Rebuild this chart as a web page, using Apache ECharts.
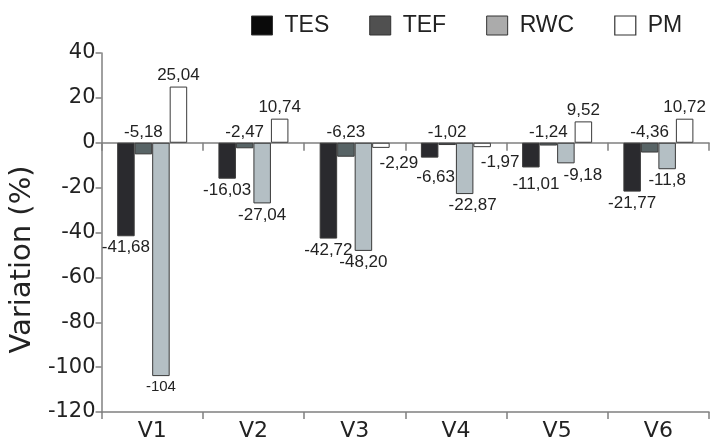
<!DOCTYPE html>
<html>
<head>
<meta charset="utf-8">
<script src="https://cdn.jsdelivr.net/npm/echarts@6/dist/echarts.min.js"></script>
<style>
    html, body { margin: 0; padding: 0; background: #fff; }
    #chart { width: 713px; height: 445px; }
</style>
</head>
<body>
<div id="chart"></div>
<script>
    const categories = ['V1', 'V2', 'V3', 'V4', 'V5', 'V6'];
    const tes = [-41.68, -16.03, -42.72, -6.63, -11.01, -21.77];
    const tef = [-5.18, -2.47, -6.23, -1.02, -1.24, -4.36];
    const rwc = [-104, -27.04, -48.20, -22.87, -9.18, -11.8];
    const pm = [25.04, 10.74, -2.29, -1.97, 9.52, 10.72];
    // labels as printed (comma decimals)
    const tesLabels = ['-41,68', '-16,03', '-42,72', '-6,63', '-11,01', '-21,77'];
    const tefLabels = ['-5,18', '-2,47', '-6,23', '-1,02', '-1,24', '-4,36'];
    const rwcLabels = ['-104', '-27,04', '-48,20', '-22,87', '-9,18', '-11,8'];
    const pmLabels = ['25,04', '10,74', '-2,29', '-1,97', '9,52', '10,72'];

    const font = 'Liberation Sans';
    const axisFont = 'DejaVu Sans';
    const axisColor = '#808080';
    const border = {borderColor: '#3a3a3a', borderWidth: 1};

    function labelled(values, texts, labelFor) {
        return values.map((v, i) => ({value: v, label: Object.assign({formatter: texts[i]}, labelFor(v, i))}));
    }

    // nudge a few labels so they don't collide, like in the original figure
    const tesNudge = {3: [6, 8], 4: [5, 5]};
    const rwcNudge = {3: [8, 0], 4: [17, 0]};

    const chart = echarts.init(document.getElementById('chart'));
    chart.setOption({
        animation: false,
        textStyle: {fontFamily: font},
        legend: {
            left: 246,
            top: 9,
            itemWidth: 21,
            itemHeight: 19,
            itemGap: 40,
            textStyle: {fontSize: 23, color: '#222', fontFamily: font, padding: [0, 0, 0, 7]},
            data: [
                {name: 'TES', icon: 'rect', itemStyle: {color: '#0a0a0a', borderColor: '#333', borderWidth: 1}},
                {name: 'TEF', icon: 'rect', itemStyle: {color: '#505050', borderColor: '#333', borderWidth: 1}},
                {name: 'RWC', icon: 'rect', itemStyle: {color: '#ababab', borderColor: '#333', borderWidth: 1}},
                {name: 'PM', icon: 'rect', itemStyle: {color: '#ffffff', borderColor: '#333', borderWidth: 1.2}}
            ]
        },
        grid: {left: 99, right: 4, top: 53, bottom: 33},
        xAxis: [
            {
                type: 'category',
                data: categories,
                position: 'bottom',
                axisLine: {onZero: false, lineStyle: {color: axisColor, width: 1.5}},
                axisTick: {show: true, length: 7, lineStyle: {color: axisColor, width: 1.5}},
                axisLabel: {fontSize: 22, color: '#222', margin: 8, fontFamily: axisFont}
            },
            {
                type: 'category',
                data: categories,
                position: 'top',
                axisLine: {onZero: true, lineStyle: {color: axisColor, width: 1.5}},
                axisTick: {show: true, inside: true, length: 8, lineStyle: {color: axisColor, width: 1.5}},
                axisLabel: {show: false}
            }
        ],
        yAxis: {
            type: 'value',
            min: -120,
            max: 40,
            interval: 20,
            name: 'Variation (%)',
            nameLocation: 'middle',
            nameGap: 62,
            nameTextStyle: {fontSize: 29, color: '#222', fontFamily: axisFont, padding: [0, 54, 0, 0]},
            axisLine: {show: true, lineStyle: {color: axisColor, width: 1.5}},
            axisTick: {show: true, length: 6, lineStyle: {color: axisColor, width: 1.5}},
            axisLabel: {fontSize: 21, color: '#222', margin: 6, fontFamily: axisFont},
            splitLine: {show: false}
        },
        series: [
            {
                name: 'TES', type: 'bar', barWidth: 17.5, barGap: '0%',
                itemStyle: Object.assign({color: '#2a2a2e'}, border),
                label: {show: true, position: 'bottom', distance: 3, fontSize: 17, color: '#222'},
                data: labelled(tes, tesLabels, (v, i) => (tesNudge[i] ? {offset: tesNudge[i]} : {}))
            },
            {
                name: 'TEF', type: 'bar', barWidth: 17.5, barGap: '0%',
                itemStyle: Object.assign({color: '#586466'}, border),
                label: {show: true, position: 'top', distance: 2, fontSize: 17, color: '#222'},
                data: labelled(tef, tefLabels, () => ({}))
            },
            {
                name: 'RWC', type: 'bar', barWidth: 17.5, barGap: '0%',
                itemStyle: Object.assign({color: '#b4bfc4'}, border),
                label: {show: true, position: 'bottom', distance: 3, fontSize: 17, color: '#222'},
                data: labelled(rwc, rwcLabels, (v, i) => (i === 0 ? {fontSize: 15} : (rwcNudge[i] ? {offset: rwcNudge[i]} : {})))
            },
            {
                name: 'PM', type: 'bar', barWidth: 17.5, barGap: '0%',
                itemStyle: Object.assign({color: '#ffffff'}, border),
                label: {show: true, distance: 3, fontSize: 17, color: '#222'},
                data: labelled(pm, pmLabels, v => (v >= 0 ? {position: 'top'} : {position: 'bottom', offset: [18, 4]}))
            }
        ]
    });
</script>
</body>
</html>
